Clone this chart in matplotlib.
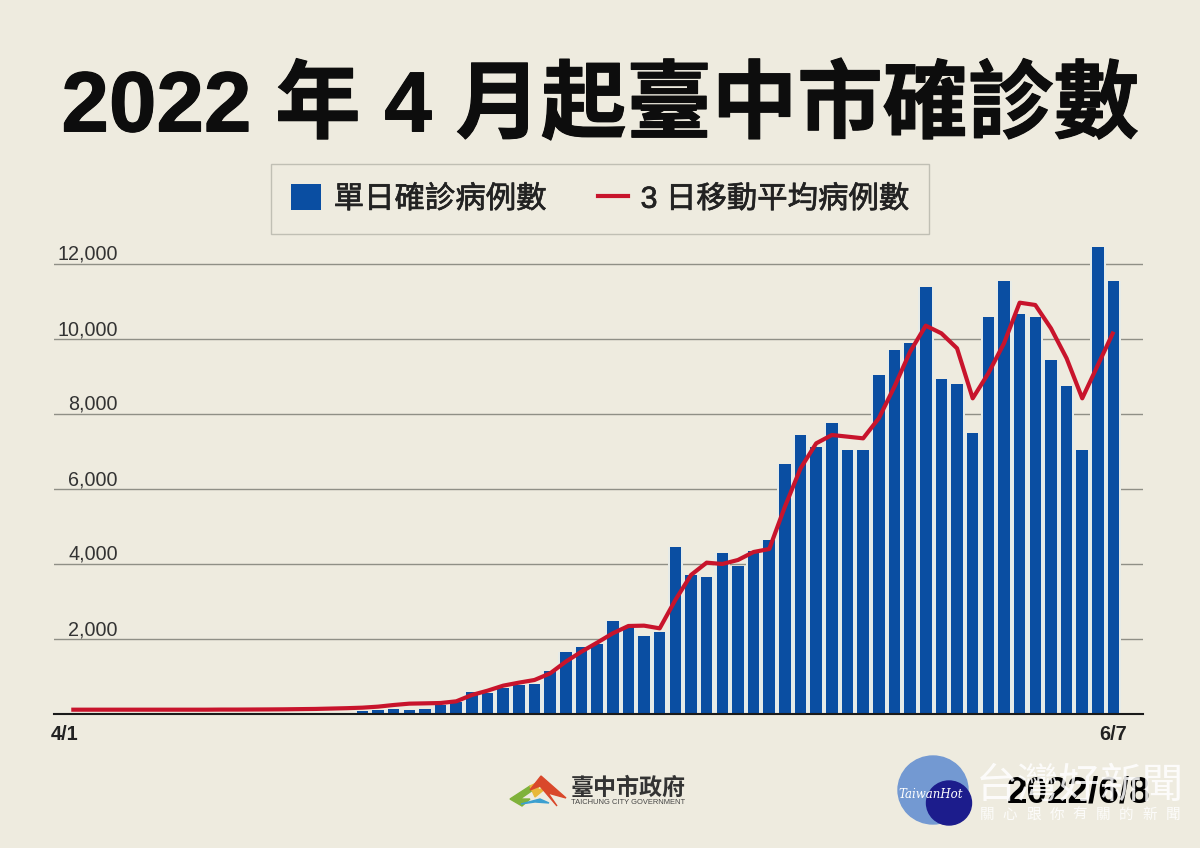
import numpy as np
import matplotlib
matplotlib.use("Agg")
import matplotlib.pyplot as plt
import matplotlib.patheffects as pe
from matplotlib.patches import Ellipse, Patch, Polygon
from matplotlib.lines import Line2D

BG = "#eeebdf"
BLUE = "#0a4ea2"
RED = "#c8142c"
CJK = "Noto Sans CJK TC"
LATIN = "Liberation Sans"

plt.rcParams["font.family"] = [LATIN, CJK, "DejaVu Sans"]

# 4/1 .. 6/7, one value per day
daily_cases = [
    5, 8, 10, 12, 10, 14, 15, 12, 16, 18,
    20, 18, 22, 25, 22, 28, 30, 35, 40,
    80, 105, 142, 107, 142, 240, 312, 587, 551, 684,
    764, 791, 1156, 1662, 1796, 1867, 2489, 2311, 2071, 2178,
    4445, 3716, 3644, 4302, 3940, 4350, 4650,
    6680, 7430, 7110, 7770, 7030, 7050, 9050, 9707, 9900, 11395,
    8945, 8800, 7500, 10577, 11547, 10667, 10577, 9430, 8747, 7030,
    12460, 11537,
]
moving_avg = [
    115, 115, 115, 115, 115, 115, 115, 115, 115, 115,
    118, 118, 120, 122, 125, 130, 135, 145, 155,
    169, 196, 240, 276, 284, 293, 338, 507, 622, 756,
    836, 907, 1084, 1396, 1662, 1902, 2151, 2347, 2356, 2284,
    3040, 3707, 4036, 4000, 4107, 4320, 4400,
    5529, 6551, 7218, 7440, 7396, 7351, 7885, 8729, 9662, 10356,
    10151, 9751, 8418, 9085, 9885, 10969, 10907, 10285, 9485, 8418,
    9307, 10196,
]
y_ticks = [2000, 4000, 6000, 8000, 10000, 12000]
x_ticks = [0, 67]
x_labels = ["4/1", "6/7"]

W, H = 1200, 848
fig = plt.figure(figsize=(W / 100, H / 100), dpi=100, facecolor=BG)

# chart axes placed by pixel box
left, right, top, bottom = 54, 1143, 240, 714
ax = fig.add_axes([left / W, 1 - bottom / H, (right - left) / W, (bottom - top) / H])
ax.set_facecolor("none")
step = 15.65
first = 65.0
ax.set_xlim((left - first) / step, (right - first) / step)
ax.set_ylim(0, (bottom - top) / 0.0375)

days = np.arange(len(daily_cases), dtype=float)
line_days = days.copy()
line_days[0] = 0.4

ax.bar(days, daily_cases, width=1.0, color="#e6ebe8", zorder=2)
ax.bar(days, daily_cases, width=0.74, color=BLUE, zorder=3)
ax.plot(line_days, moving_avg, color=RED, linewidth=3.0, zorder=4,
        solid_joinstyle="round", solid_capstyle="butt")

ax.set_yticks(y_ticks)
ax.set_yticklabels([f"{v:,}" for v in y_ticks], fontsize=14.2, color="#333333",
                   ha="right", va="bottom")
ax.tick_params(axis="y", length=0, pad=-46)
ax.set_xticks(x_ticks)
ax.set_xticklabels(x_labels, fontsize=14.4, fontweight="bold", color="#222222")
ax.tick_params(axis="x", length=0, pad=8)
ax.grid(axis="y", color="#8f8f86", linewidth=1.0, zorder=1)
ax.set_axisbelow(True)
for name in ["top", "left", "right"]:
    ax.spines[name].set_visible(False)
ax.spines["bottom"].set_color("#1a1a1a")
ax.spines["bottom"].set_linewidth(1.5)
ax.spines["bottom"].set_zorder(5)

handles = [
    Patch(facecolor=BLUE, edgecolor="none", label="單日確診病例數"),
    Line2D([0], [0], color=RED, linewidth=3, label="3 日移動平均病例數"),
]
leg = ax.legend(handles=handles, ncol=2, loc="center", bbox_to_anchor=(600 / W, 1 - 199 / H),
                bbox_transform=fig.transFigure, frameon=True, fancybox=False,
                facecolor="none", edgecolor="#b5b4aa", framealpha=None,
                handlelength=0.98, handleheight=0.95, handletextpad=0.42,
                columnspacing=1.7, borderpad=0.66, borderaxespad=0,
                prop={"size": 21.9, "weight": "medium"})
for t in leg.get_texts():
    t.set_color("#222222")
    t.set_path_effects([pe.withStroke(linewidth=0.5, foreground="#222222")])

# overlay in pixel coordinates for title and footer items
over = fig.add_axes([0, 0, 1, 1], zorder=10)
over.set_xlim(0, W)
over.set_ylim(H, 0)
over.axis("off")

title = over.text(600, 108, "2022 年 4 月起臺中市確診數", fontsize=61.5, fontweight="black",
                  color="#0d0d0d", ha="center", va="center")
title.set_path_effects([pe.withStroke(linewidth=0.8, foreground="#0d0d0d")])

# city logo
over.add_patch(Polygon([(510, 799), (530, 786), (533, 790), (520, 799), (530, 799), (522, 806)],
                       closed=True, color="#7fb23a"))
over.add_patch(Polygon([(530, 786), (543, 780), (537, 790), (546, 788), (535, 797)],
                       closed=True, color="#e8b83a"))
over.add_patch(Polygon([(530, 790), (541, 776), (566, 798), (548, 793), (557, 806), (540, 786)],
                       closed=True, color="#d9482b"))
over.add_patch(Polygon([(521, 804), (540, 799), (549, 803), (535, 802)],
                       closed=True, color="#3b9fd0"))
over.text(571, 788, "臺中市政府", fontsize=16.6, fontweight="bold", color="#333333",
          va="center", ha="left", family=[CJK])
over.text(571, 802, "TAICHUNG CITY GOVERNMENT", fontsize=5.4, color="#444444",
          va="center", ha="left")

over.text(1079, 793, "2022/6/8", fontsize=26.6, fontweight="bold", color="#000000",
          ha="center", va="center")

# watermark
over.add_patch(Ellipse((933, 790), 70, 68, color="#7399d2"))
over.add_patch(Ellipse((949, 803), 45, 44, color="#1c1c8c"))
over.text(931, 794, "TaiwanHot", fontsize=8.5, style="italic", color="white",
          ha="center", va="center", family=["DejaVu Serif"])
over.text(1080, 786, "台灣好新聞", fontsize=30, color="white", alpha=0.85,
          ha="center", va="center", family=[CJK])
for i, ch in enumerate("關心跟你有關的新聞"):
    over.text(987 + i * 23.2, 815, ch, fontsize=10.5, color="white", alpha=0.85,
              ha="center", va="center", family=[CJK])

fig.savefig("out.png", dpi=100, facecolor=BG)
